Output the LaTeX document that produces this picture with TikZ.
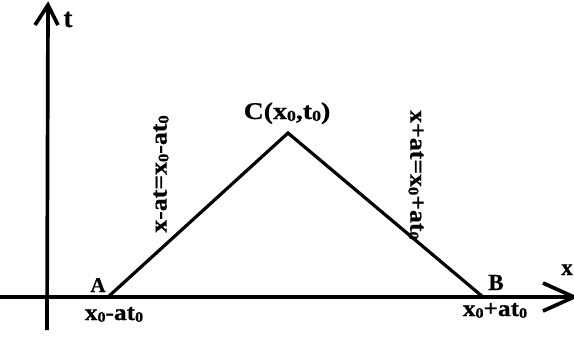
\documentclass[tikz,border=0pt]{standalone}
\usepackage{fontspec}
\setmainfont{Liberation Serif}
\newfontfamily\wf{Liberation Serif Bold}[FakeStretch=1.1,FakeBold=0.6]
\newfontfamily\wc{Liberation Serif Bold}[FakeStretch=1.16,FakeBold=0.6]
\newfontfamily\nf{Liberation Serif Bold}[FakeBold=0.6]
\newcommand\zsub{\raisebox{-0.08em}{\scalebox{0.64}{0}}}
\begin{document}
\begin{tikzpicture}[x=1pt,y=-1pt,
  axis/.style={line width=3.7pt},
  edge/.style={line width=3.2pt,line join=miter},
  barb/.style={line width=3.7pt,line join=miter},
  lbl/.style={inner sep=0pt,anchor=base},
  wlbl/.style={inner sep=0pt,font=\wf\fontsize{23.5}{23.5}\selectfont}]
\useasboundingbox (0,0) rectangle (574,338);
% axes
\coordinate (xs) at (0,297);
\coordinate (xe) at (574,297);
\coordinate (xw1) at (543,283);
\coordinate (xw2) at (543,311);
\coordinate (ts) at (47,330);
\coordinate (te) at (48,5);
\coordinate (tw1) at (35,25);
\coordinate (tw2) at (58,25);
\draw[axis] (xs) -- (xe);
\draw[barb] (xw1) -- (xe) -- (xw2);
\draw[axis] (ts) -- (te);
\draw[barb] (tw1) -- (te) -- (tw2);
% triangle
\coordinate (A) at (108,297);
\coordinate (B) at (483,297);
\coordinate (C) at (288,133);
\draw[edge] (A) -- (C) -- (B);
% labels
\node[lbl,font=\nf\fontsize{27}{27}\selectfont] (tl) at (68,27) {t};
\node[lbl,font=\nf\fontsize{23}{23}\selectfont] (xl) at (567,275) {x};
\node[lbl,font=\nf\fontsize{21}{21}\selectfont] (Al) at (98,292) {A};
\node[lbl,font=\nf\fontsize{23}{23}\selectfont] (Bl) at (496,290) {B};
\node[lbl,font=\wc\fontsize{24}{24}\selectfont] (Cl) at (287,119) {C(x\zsub,t\zsub)};
\node[lbl,font=\wf\fontsize{23}{23}\selectfont] (Ax) at (114,320) {x\zsub-at\zsub};
\node[lbl,font=\wf\fontsize{23}{23}\selectfont] (Bx) at (495,316) {x\zsub+at\zsub};
\node[wlbl,rotate=90] (La) at (161,174) {x-at=x\zsub-at\zsub};
\node[wlbl,rotate=-90] (Lb) at (416,175) {x+at=x\zsub+at\zsub};
\end{tikzpicture}
\end{document}
